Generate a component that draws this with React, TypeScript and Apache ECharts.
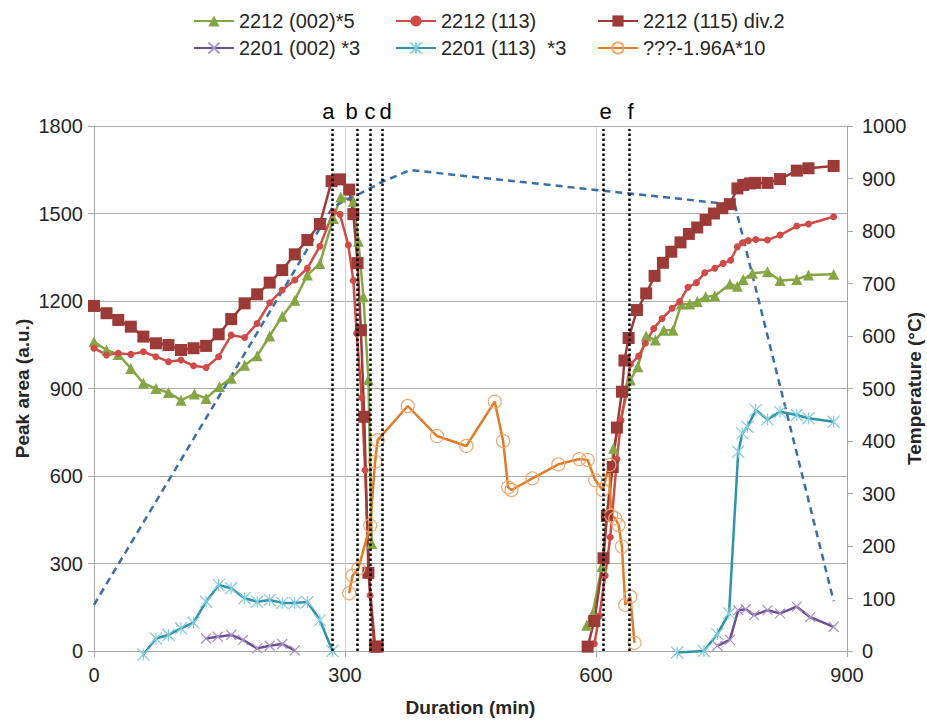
import React, { useEffect, useRef } from "react";
import * as echarts from "echarts";

const FONT = '"Liberation Sans", Arial, sans-serif';

// ---- Data (x = duration in min, y = value) ----
const green002Heat = [[0,1060],[15,1032],[29,1017],[44,969],[59,918],[74,900],[89,886],[104,860],[120,881],[134,866],[150,907],[164,935],[180,980],[195,1012],[210,1080],[225,1148],[240,1203],[255,1289],[270,1329],[286,1483],[295,1557],[310,1542],[316,1405],[322,1215],[328,930],[332,369]];
const green002Cool = [[589,88],[596,129],[607,290],[621,695],[641,929],[650,975],[660,1080],[671,1066],[681,1100],[692,1100],[702,1190],[712,1190],[721,1198],[731,1215],[742,1217],[760,1258],[769,1251],[776,1274],[787,1295],[805,1300],[820,1270],[840,1274],[854,1289],[884,1292]];

const red113Heat = [[0,1038],[15,1015],[29,1021],[44,1017],[59,1026],[74,1009],[89,992],[104,998],[119,978],[134,972],[149,1009],[164,1083],[180,1075],[195,1123],[210,1194],[225,1238],[240,1272],[255,1312],[270,1388],[286,1506],[294,1497],[304,1392],[310,1270],[314,1089],[320,869],[324,620],[330,190],[335,12]];
const red113Cool = [[598,25],[604,120],[611,258],[617,390],[625,657],[630,790],[641,983],[651,1011],[659,1055],[669,1106],[679,1140],[691,1175],[700,1198],[710,1247],[720,1263],[730,1297],[742,1312],[752,1329],[761,1340],[769,1386],[775,1400],[782,1407],[791,1411],[805,1409],[820,1426],[840,1457],[854,1464],[884,1489]];

const dark115Heat = [[0,1183],[15,1158],[29,1135],[44,1112],[59,1078],[74,1055],[89,1049],[104,1032],[119,1038],[134,1046],[149,1086],[164,1138],[180,1192],[195,1223],[210,1263],[225,1306],[240,1360],[255,1409],[270,1464],[284,1611],[294,1617],[305,1582],[310,1498],[315,1330],[319,1100],[323,803],[328,268],[336,15],[339,15]];
const dark115Cool = [[590,15],[598,103],[609,318],[613,463],[620,631],[625,766],[631,889],[634,996],[639,1073],[649,1169],[660,1226],[670,1286],[680,1331],[690,1369],[701,1401],[711,1430],[721,1452],[731,1478],[741,1500],[751,1518],[760,1532],[769,1586],[776,1598],[784,1603],[790,1605],[805,1605],[820,1618],[840,1647],[854,1655],[884,1663]];

const purple002Heat = [[134,43],[148,49],[164,55],[178,38],[195,9],[210,18],[225,24],[240,2]];
const purple002Cool = [[745,18],[760,38],[770,140],[779,143],[789,123],[805,140],[820,129],[840,152],[856,116],[884,83]];

const teal113Heat = [[59,-12],[74,43],[89,55],[104,78],[119,97],[134,169],[149,226],[164,215],[180,181],[195,169],[210,175],[225,165],[240,165],[255,168],[270,106],[285,0]];
const teal113Cool = [[697,-5],[729,0],[745,58],[759,129],[770,683],[775,746],[781,769],[791,826],[805,794],[820,820],[840,809],[854,798],[884,786]];

const orangeA = [[305,198],[309,258],[316,283],[330,430],[336,649],[339,723],[375,840],[410,737],[445,703],[479,855],[489,720],[495,561],[499,552],[524,592],[555,640],[580,658],[590,655],[599,586],[608,552],[616,638],[618,465],[623,455],[627,432],[631,358],[635,158],[641,186],[646,28]];

const temperature = [[0,88],[285,845],[305,862],[315,869],[345,894],[378,916],[766,850],[884,95]];

const eventNames = ["a", "b", "c", "d", "e", "f"];
const eventTimes = [285, 315, 330, 345, 609, 640];
const eventLabelShift = [-4, -6, 0, 3, 2, 1];
const eventTop = 1790;

const seriesNames = ["2212 (002)*5", "2212 (113)", "2212 (115) div.2", "2201 (002) *3", "2201 (113)  *3", "???-1.96A*10"];

const GAP = [NaN, NaN];
const joinParts = (a: number[][], b: number[][]) => [...a, GAP, ...b];

export default function App() {
  const ref = useRef<HTMLDivElement>(null);
  useEffect(() => {
    if (!ref.current) return;
    const chart = echarts.init(ref.current, undefined, { renderer: "svg" });
    const txt = { fontFamily: FONT, color: "#262626" };
    const legendBase = {
      orient: "vertical" as const,
      top: 6,
      itemWidth: 40,
      itemHeight: 14,
      itemGap: 7,
      textStyle: { ...txt, fontSize: 20, lineHeight: 20 },
    };
    const plain = (v: number) => String(v);
    const lineSeries = (name: string, data: any[], color: string, symbol: string, size: number, item: any, width = 2.5) => ({
      name,
      type: "line",
      data,
      clip: false,
      symbol,
      symbolSize: size,
      showAllSymbol: true,
      lineStyle: { color, width },
      itemStyle: item,
      emphasis: { disabled: true },
    });
    const option: any = {
      animation: false,
      backgroundColor: "#ffffff",
      textStyle: { fontFamily: FONT },
      legend: [
        { ...legendBase, left: 188, data: [seriesNames[0], seriesNames[3]] },
        { ...legendBase, left: 390, data: [seriesNames[1], seriesNames[4]] },
        { ...legendBase, left: 592, data: [seriesNames[2], seriesNames[5]] },
      ],
      grid: { left: 94, right: 80, top: 126, bottom: 71, containLabel: false, outerBoundsMode: "none" },
      xAxis: {
        type: "value",
        min: 0,
        max: 900,
        interval: 300,
        name: "Duration (min)",
        nameLocation: "middle",
        nameGap: 47,
        nameMoveOverlap: false,
        nameTextStyle: { ...txt, fontSize: 19, fontWeight: "bold" },
        axisLine: { show: true, lineStyle: { color: "#a6a6a6", width: 1 } },
        axisTick: { show: true, length: 6, lineStyle: { color: "#a6a6a6" } },
        axisLabel: { ...txt, fontSize: 20, margin: 14, formatter: plain },
        splitLine: { show: true, lineStyle: { color: "#cfcfcf", width: 1 } },
      },
      yAxis: [
        {
          type: "value",
          min: 0,
          max: 1800,
          interval: 300,
          position: "left",
          name: "Peak area (a.u.)",
          nameLocation: "middle",
          nameRotate: 90,
          nameGap: 62,
          nameMoveOverlap: false,
          nameTextStyle: { ...txt, fontSize: 19, fontWeight: "bold" },
          axisLine: { show: true, lineStyle: { color: "#a6a6a6", width: 1 } },
          axisTick: { show: true, length: 6, lineStyle: { color: "#a6a6a6" } },
          axisLabel: { ...txt, fontSize: 20, margin: 11, formatter: plain },
          splitLine: { show: true, lineStyle: { color: "#ababab", width: 1 } },
        },
        {
          type: "value",
          min: 0,
          max: 1000,
          interval: 100,
          position: "right",
          name: "Temperature (°C)",
          nameLocation: "middle",
          nameRotate: 90,
          nameGap: 58,
          nameMoveOverlap: false,
          nameTextStyle: { ...txt, fontSize: 19, fontWeight: "bold" },
          axisLine: { show: true, lineStyle: { color: "#a6a6a6", width: 1 } },
          axisTick: { show: true, length: 6, lineStyle: { color: "#a6a6a6" } },
          axisLabel: { ...txt, fontSize: 20, margin: 15, formatter: plain },
          splitLine: { show: false },
        },
      ],
      series: [
        {
          name: "events",
          type: "line",
          data: [],
          silent: true,
          markLine: {
            silent: true,
            symbol: "none",
            animation: false,
            lineStyle: { type: "dotted", color: "#000000", width: 2.5 },
            label: { show: true, position: "end", distance: 6, fontSize: 22, fontFamily: FONT, color: "#000000" },
            emphasis: { disabled: true },
            data: eventTimes.map((t, i) => [
              { coord: [t, 0], name: eventNames[i], label: { formatter: eventNames[i], offset: [eventLabelShift[i], 0] } },
              { coord: [t, eventTop] },
            ]),
          },
        },
        lineSeries(seriesNames[0], joinParts(green002Heat, green002Cool), "#86a545", "triangle", 11, { color: "#86a545" }),
        lineSeries(seriesNames[1], joinParts(red113Heat, red113Cool), "#cf4b48", "circle", 7, { color: "#cf4b48" }),
        lineSeries(seriesNames[2], joinParts(dark115Heat, dark115Cool), "#9b3a37", "rect", 12, { color: "#9b3a37" }),
        lineSeries(seriesNames[3], joinParts(purple002Heat, purple002Cool), "#6f4e93", "path://M0,0L10,10M10,0L0,10", 10, { color: "transparent", borderColor: "#a792c9", borderWidth: 1.2 }),
        lineSeries(seriesNames[4], joinParts(teal113Heat, teal113Cool), "#2f93a9", "path://M5,0L5,10M0,0L10,10M10,0L0,10", 12, { color: "transparent", borderColor: "#84cde0", borderWidth: 1.2 }),
        lineSeries(seriesNames[5], orangeA, "#e07b28", "circle", 13, { color: "transparent", borderColor: "#f0a870", borderWidth: 1.2 }),
        {
          name: "Temperature",
          type: "line",
          yAxisIndex: 1,
          data: temperature,
          clip: false,
          symbol: "none",
          lineStyle: { color: "#3a6ea8", width: 2.5, type: [7, 5] },
          emphasis: { disabled: true },
        },
      ],
    };
    chart.setOption(option);
    return () => chart.dispose();
  }, []);
  return (
    <div
      ref={ref}
      style={{ position: "fixed", left: 0, top: 0, width: 927, height: 722, background: "#fff" }}
    />
  );
}
